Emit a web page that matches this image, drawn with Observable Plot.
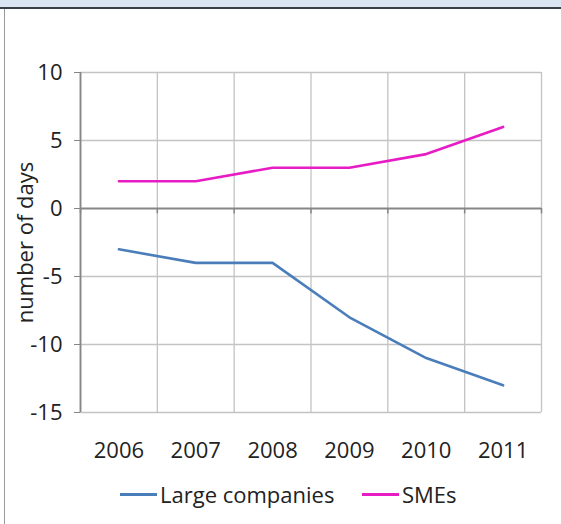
<!DOCTYPE html>
<html>
<head>
<meta charset="utf-8">
<script src="https://cdn.jsdelivr.net/npm/d3@7"></script>
<script src="https://cdn.jsdelivr.net/npm/@observablehq/plot@0.6"></script>
<style>
  html, body { margin: 0; padding: 0; background: #fff; }
  body { width: 561px; height: 524px; overflow: hidden; font-family: "Open Sans", sans-serif; }
  #band { height: 7px; background: #dbe5f1; border-bottom: 2px solid #3a3e45; }
  #frame { margin-left: 4px; border-left: 1px solid #9a9a9a; height: 515px; position: relative; }
  #legend { position: absolute; top: 470px; left: 0; width: 556px; height: 30px; font-size: 22px; color: #222; }
  .item { position: absolute; top: 0; display: flex; align-items: center; height: 30px; }
  .sw { width: 37px; height: 3px; margin-right: 3px; }
</style>
</head>
<body>
<div id="band"></div>
<div id="frame">
  <div id="chart"></div>
  <div id="legend"></div>
</div>
<script>
const years = [2006, 2007, 2008, 2009, 2010, 2011];
const largeCompanies = [-3, -4, -4, -8, -11, -13];
const smes = [2, 2, 3, 3, 4, 6];
const yTicks = [-15, -10, -5, 0, 5, 10];
const seriesNames = ["Large companies", "SMEs"];
const seriesColors = ["#4a7ebb", "#e81cc4"];

const data = [
  ...years.map((y, i) => ({year: y, value: largeCompanies[i], series: seriesNames[0]})),
  ...years.map((y, i) => ({year: y, value: smes[i], series: seriesNames[1]}))
];
const xMin = d3.min(years) - 0.5, xMax = d3.max(years) + 0.5;
const boundaries = years.map(y => y - 0.5).concat([xMax]);
const yMin = d3.min(yTicks), yMax = d3.max(yTicks);

const chart = Plot.plot({
  width: 556,
  height: 462,
  marginLeft: 75,
  marginRight: 20,
  marginTop: 63,
  marginBottom: 59,
  style: {fontFamily: "Open Sans, sans-serif", fontSize: "22px", color: "#222", background: "#fff"},
  x: {domain: [xMin, xMax], axis: null},
  y: {domain: [yMin, yMax], axis: null},
  color: {domain: seriesNames, range: seriesColors},
  marks: [
    Plot.ruleY(yTicks.filter(t => t !== 0), {stroke: "#c3c3c3", strokeWidth: 1.3}),
    Plot.ruleX(boundaries, {stroke: "#c3c3c3", strokeWidth: 1.3}),
    Plot.ruleX([xMin], {stroke: "#868686", strokeWidth: 1.8}),
    Plot.ruleY([0], {stroke: "#868686", strokeWidth: 1.8}),
    Plot.ruleX(boundaries, {y1: 0, y2: -0.4, stroke: "#868686", strokeWidth: 1.5}),
    Plot.axisY({ticks: yTicks, tickFormat: d => String(d), tickSize: 6, tickPadding: 12, stroke: "#868686", fill: "#222", label: null, fontSize: 22}),
    Plot.axisX({ticks: years, tickFormat: d => String(d), tickSize: 0, tickPadding: 30, label: null, fill: "#222", fontSize: 22}),
    Plot.text(["number of days"], {frameAnchor: "left", textAnchor: "middle", dx: -55, rotate: -90, fontSize: 22, fill: "#222"}),
    Plot.line(data, {x: "year", y: "value", z: "series", stroke: "series", strokeWidth: 2.6, curve: "linear"})
  ]
});
document.getElementById("chart").appendChild(chart);

const legend = document.getElementById("legend");
const lefts = [115, 357];
seriesNames.forEach((name, i) => {
  const item = document.createElement("div");
  item.className = "item";
  item.style.left = lefts[i] + "px";
  const sw = document.createElement("div");
  sw.className = "sw";
  sw.style.background = seriesColors[i];
  const t = document.createElement("span");
  t.textContent = name;
  item.appendChild(sw);
  item.appendChild(t);
  legend.appendChild(item);
});
</script>
</body>
</html>
